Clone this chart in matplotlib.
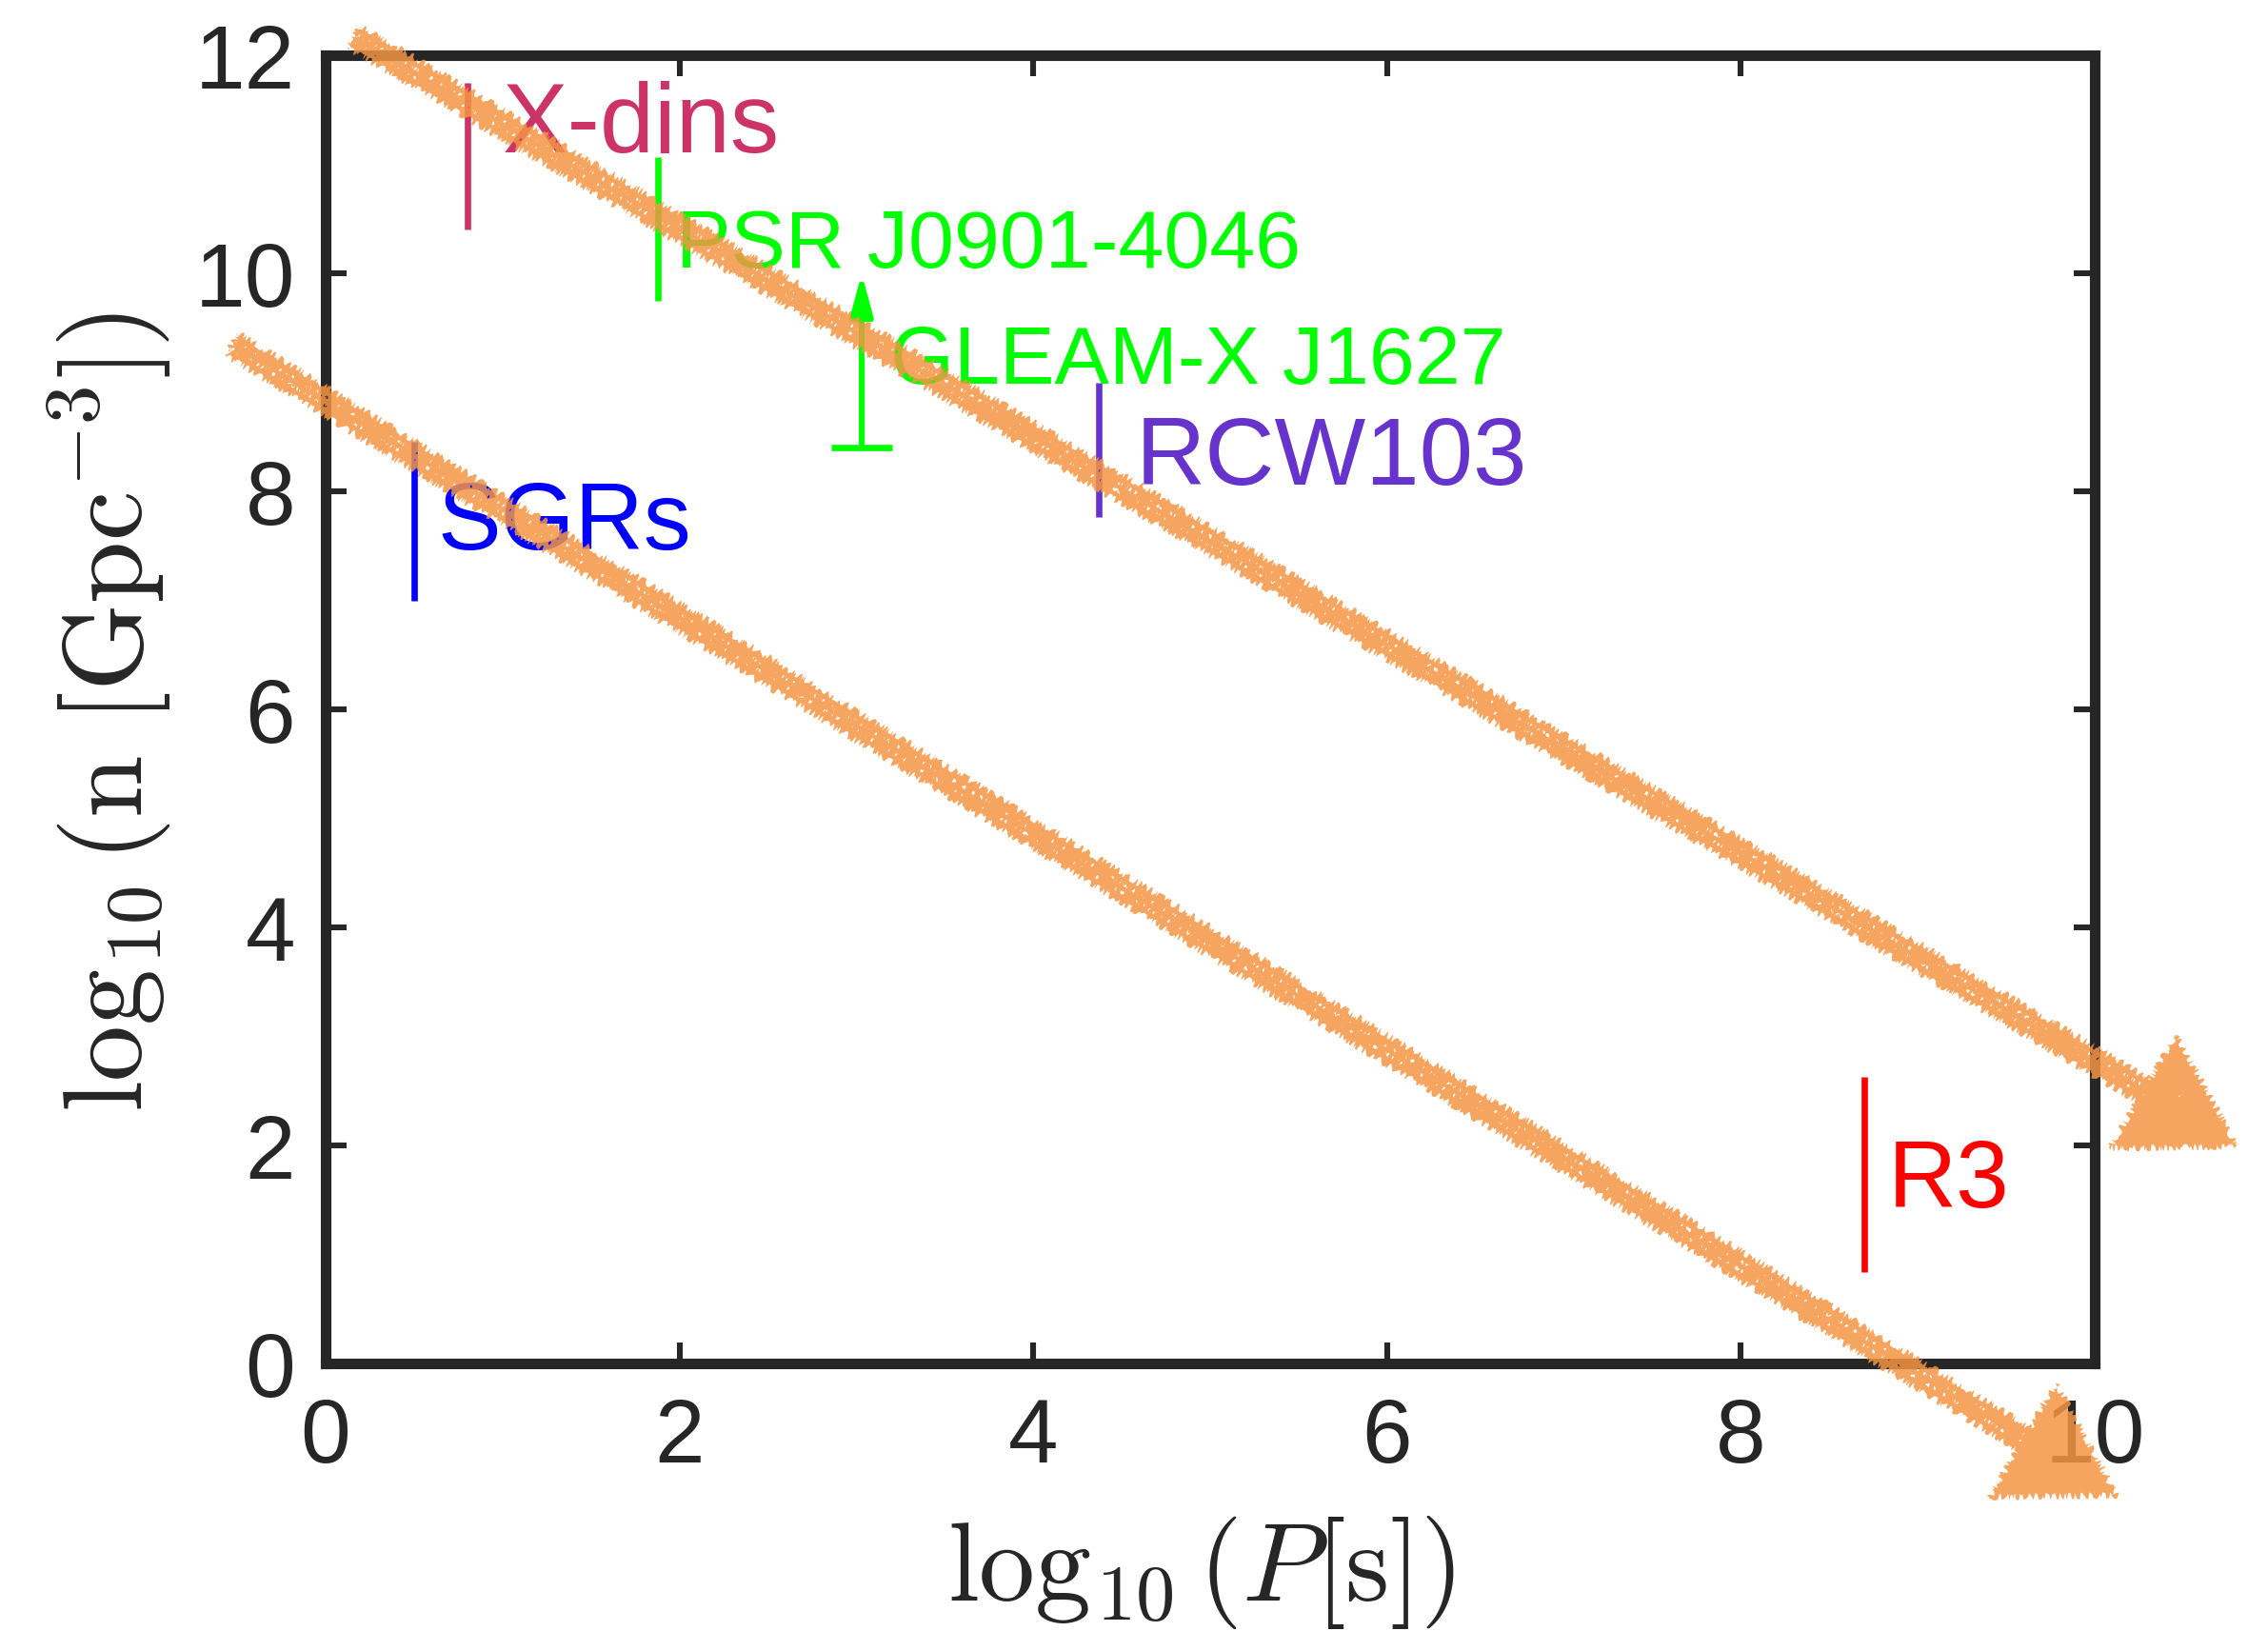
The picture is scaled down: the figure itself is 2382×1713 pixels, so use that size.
import matplotlib

matplotlib.use("Agg")
import matplotlib.pyplot as plt
import numpy as np
from matplotlib.patches import PathPatch
from matplotlib.path import Path
from matplotlib.transforms import IdentityTransform

# Period / number-density ranges per source class (log10 P [s], log10 n [Gpc^-3])
sources = ["X-dins", "PSR J0901-4046", "SGRs", "RCW103", "R3"]
source_logp = [0.8, 1.88, 0.5, 4.37, 8.7]
source_lo = [10.4, 9.75, 7.0, 7.77, 0.84]
source_hi = [11.75, 11.07, 8.46, 9.0, 2.63]
source_colors = ["#CC3366", "#00FF00", "#0000FF", "#6633CC", "#FF0000"]
label_x = [1.0, 1.98, 0.63, 4.58, 8.83]
label_y = [11.11, 10.05, 7.47, 8.06, 1.43]
label_size = [37, 31, 36, 36.5, 36]

# GLEAM-X J1627 only has a lower limit
gleam_name = "GLEAM-X J1627"
gleam_logp = 3.03
gleam_lower = 8.4
gleam_arrow_top = 10.0
gleam_label_xy = (3.19, 8.99)

# hand-drawn trend arrows: (start, head centre) in data units
trend_upper = [(0.16, 12.17), (10.45, 2.34)]
trend_lower = [(-0.53, 9.35), (9.77, -0.86)]
chalk = "#F49644"

x_ticks = [0, 2, 4, 6, 8, 10]
y_ticks = [0, 2, 4, 6, 8, 10, 12]

plt.rcParams["mathtext.fontset"] = "cm"
plt.rcParams["font.family"] = ["Liberation Sans", "DejaVu Sans"]

fig = plt.figure(figsize=(11.91, 8.565), dpi=200)
ax = fig.add_axes((0.1436, 0.164, 0.78, 0.802))

ax.set_xlim(0, 10)
ax.set_ylim(0, 12)
ax.set_xticks(x_ticks)
ax.set_yticks(y_ticks)
for s in ax.spines.values():
    s.set_linewidth(4)
    s.set_color("#262626")
ax.tick_params(
    direction="in", length=8, width=2.2, top=True, right=True,
    labelsize=34, colors="#262626",
)
ax.tick_params(axis="x", pad=12.5)
ax.tick_params(axis="y", pad=11.5)

ax.set_xlabel(r"$\log_{10}(P[\mathrm{s}])$", fontsize=42.5, color="#262626")
ax.xaxis.set_label_coords(0.495, -0.115)
ax.set_ylabel(r"$\log_{10}(\mathrm{n}\ [\mathrm{Gpc}^{-3}])$", fontsize=42.5,
              color="#262626")
ax.yaxis.set_label_coords(-0.086, 0.498)

for name, x, lo, hi, c, tx, ty, fs in zip(
    sources, source_logp, source_lo, source_hi, source_colors,
    label_x, label_y, label_size,
):
    ax.plot([x, x], [lo, hi], color=c, lw=2.4, solid_capstyle="butt")
    ax.text(tx, ty, name, color=c, fontsize=fs, ha="left", va="baseline")

# lower-limit marker with an upward arrow
ax.plot([gleam_logp], [gleam_lower], marker="_", ms=23, mew=2.4, color="#00FF00")
ax.annotate(
    "", xy=(gleam_logp, gleam_arrow_top), xytext=(gleam_logp, gleam_lower),
    arrowprops=dict(
        arrowstyle="-|>,head_length=1.3,head_width=0.35", mutation_scale=10,
        color="#00FF00", lw=2.2, shrinkA=0, shrinkB=0,
    ),
)
ax.text(*gleam_label_xy, gleam_name, color="#00FF00", fontsize=31,
        ha="left", va="baseline")


def chalk_arrow(start, end):
    """Rough crayon-style arrow: a few jittered strips plus a triangle head,
    all in one filled path so overlaps don't stack the alpha."""
    p0, p1 = ax.transData.transform([start, end])
    d = (p1 - p0) / np.hypot(*(p1 - p0))
    n = np.array([-d[1], d[0]])
    verts, codes = [], []
    half = 5.5
    for off in (-8.0, 0.0, 8.0):
        a, b = off - half, off + half
        verts += [p0 + n * a, p1 + n * a, p1 + n * b, p0 + n * b, p0 + n * a]
        codes += [Path.MOVETO, Path.LINETO, Path.LINETO, Path.LINETO, Path.CLOSEPOLY]
    head = np.array([[-68.0, -42.0], [66.0, -40.0], [2.0, 78.0]])
    verts += [p1 + v for v in head] + [p1 + head[0]]
    codes += [Path.MOVETO, Path.LINETO, Path.LINETO, Path.CLOSEPOLY]
    patch = PathPatch(
        Path(verts, codes), facecolor=chalk, edgecolor="none", alpha=0.85,
        transform=IdentityTransform(), clip_on=False, zorder=10,
    )
    patch.set_sketch_params(scale=3.5, length=8, randomness=10)
    ax.add_patch(patch)


for start, end in (trend_upper, trend_lower):
    chalk_arrow(start, end)

fig.savefig("out.png", dpi=200)
